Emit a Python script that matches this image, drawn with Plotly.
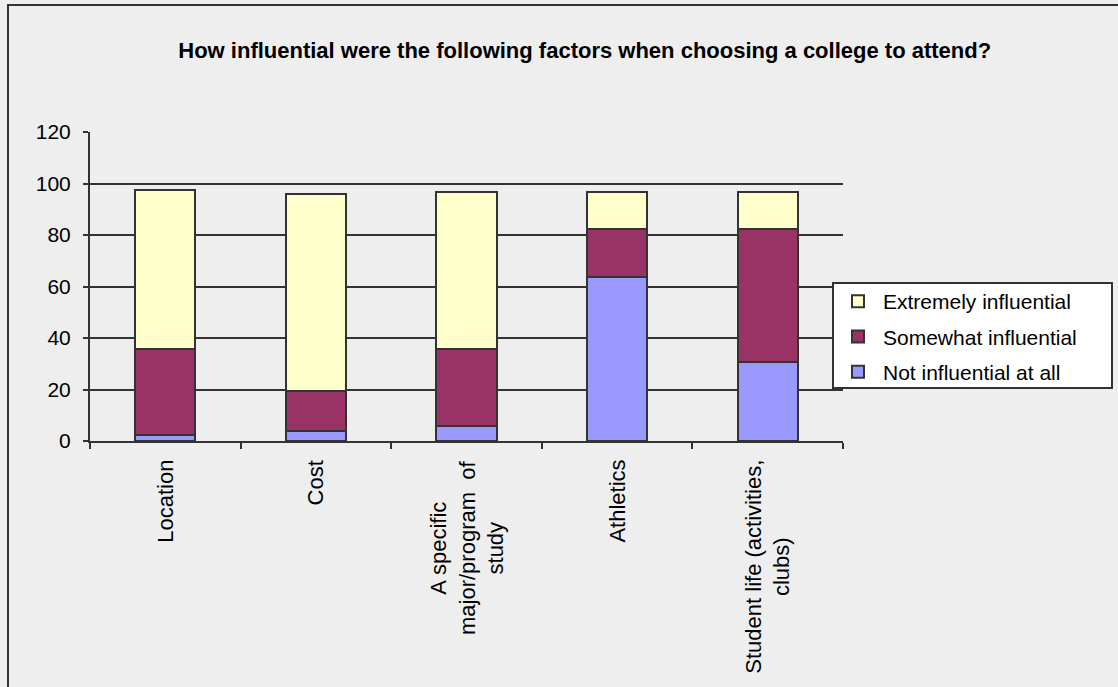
import plotly.graph_objects as go

# Survey responses (percent of respondents) per factor
categories = [
    "Location",
    "Cost",
    "A specific<br>major/program  of<br>study",
    "Athletics",
    "Student life (activities,<br>clubs)",
]
not_influential = [2.2, 4.0, 5.9, 63.6, 30.8]
somewhat_influential = [33.4, 15.4, 29.7, 18.9, 51.7]
extremely_influential = [61.7, 76.7, 61.0, 14.1, 14.1]

series_names = ["Not influential at all", "Somewhat influential", "Extremely influential"]
series_values = [not_influential, somewhat_influential, extremely_influential]
series_colors = ["#9999FF", "#993366", "#FFFFCC"]
legend_ranks = [3, 2, 1]

EDGE = "#333333"
BG = "#EEEEEE"
FONT = "Liberation Sans, Arial, sans-serif"

# plot area in pixels: x 90..843, y 132..441
PW, PH = 753, 309

fig = go.Figure()
for name, vals, col, rank in zip(series_names, series_values, series_colors, legend_ranks):
    fig.add_trace(go.Bar(
        x=categories, y=vals, name=name, legendgroup=name, legendrank=rank,
        marker=dict(color=col, line=dict(color=EDGE, width=2)),
    ))

fig.update_layout(
    width=1118, height=687,
    barmode="stack", bargap=0.6,
    paper_bgcolor=BG, plot_bgcolor=BG,
    margin=dict(l=90, r=275, t=132, b=246, autoexpand=False),
    font=dict(family=FONT, size=20, color="black"),
    title=dict(
        text="<b>How influential were the following factors when choosing a college to attend?</b>",
        x=0.523, xanchor="center", y=0.927, yanchor="middle",
        font=dict(family=FONT, size=22, color="black"),
    ),
    legend=dict(
        x=(833 - 90) / PW, xanchor="left", y=(441 - 281) / PH, yanchor="top",
        traceorder="grouped", tracegroupgap=5,
        bgcolor="rgba(0,0,0,0)", borderwidth=0,
        font=dict(family=FONT, size=21, color="black"),
        itemwidth=40,
    ),
    showlegend=True,
)

fig.update_yaxes(
    range=[0, 120], dtick=20,
    showgrid=True, gridcolor=EDGE, gridwidth=2,
    showline=True, linecolor=EDGE, linewidth=2,
    ticks="outside", ticklen=5, tickcolor=EDGE, tickwidth=2,
    ticklabelstandoff=8,
    zeroline=False,
    tickfont=dict(family=FONT, size=21, color="black"),
)
fig.update_xaxes(
    showline=True, linecolor=EDGE, linewidth=2,
    ticks="outside", ticklen=6, tickcolor=EDGE, tickwidth=2,
    tickson="boundaries",
    showticklabels=False,
)

# rotated category labels with centred lines
for cat in categories:
    fig.add_annotation(
        x=cat, xref="x", y=-(458 - 441) / PH, yref="paper",
        text=cat, textangle=-90, align="center",
        xanchor="center", yanchor="top", showarrow=False,
        font=dict(family=FONT, size=22, color="black"),
    )

# legend box
fig.add_shape(
    type="rect", xref="paper", yref="paper",
    x0=(833 - 90) / PW, x1=(1112 - 90) / PW,
    y0=(441 - 388) / PH, y1=(441 - 283) / PH,
    line=dict(color=EDGE, width=2), fillcolor="white", layer="above",
)

# outer chart frame
fig.add_shape(
    type="rect", xref="paper", yref="paper",
    x0=-82 / PW, x1=1.5, y0=-1.0, y1=(687 - 5 - 246) / PH,
    line=dict(color=EDGE, width=2), fillcolor="rgba(0,0,0,0)", layer="below",
)

fig.write_html("out.html")
